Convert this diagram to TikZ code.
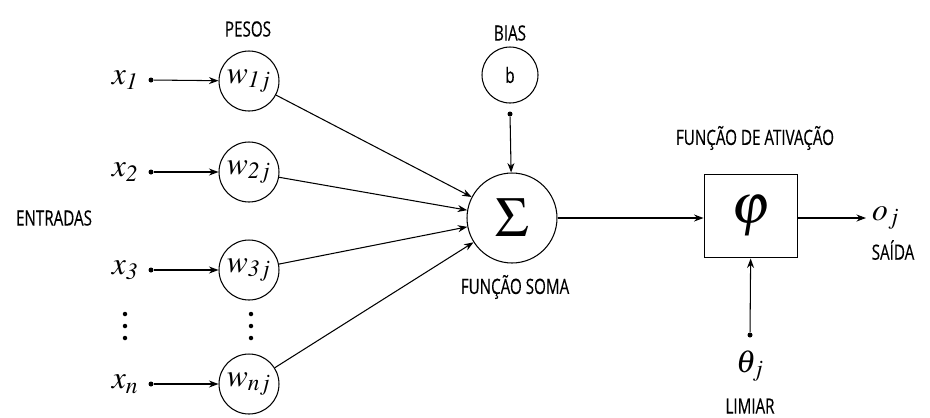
\documentclass[tikz,border=0pt]{standalone}
\usepackage{mathptmx}
\usepackage{fontspec}
\newfontfamily\rotulo[FakeStretch=0.72,FakeBold=0.3]{Open Sans}
\usetikzlibrary{arrows.meta,positioning}

\tikzset{
  peso/.style={draw,circle,semithick,minimum size=1.2cm,inner sep=0pt,font=\fontsize{18}{20}\selectfont},
  ponto/.style={circle,fill,minimum size=0.1cm,inner sep=0pt},
  rot/.style={font=\rotulo\fontsize{12}{14}\selectfont},
  var/.style={font=\fontsize{18}{20}\selectfont},
  seta/.style={semithick,-{Stealth[length=1.9mm,width=1.4mm]}}
}

\begin{document}
\begin{tikzpicture}[x=0.02cm,y=-0.02cm]
        \useasboundingbox (0,0) rectangle (930,417);
        % entradas e pesos
        \node[rot] (pesos) at (248,29) {PESOS};
        \node[rot] (entradas) at (54,218) {ENTRADAS};
        \node[peso] (w1) at (249,81) {$w_{\mathit{1}j}$};
        \node[peso] (w2) at (249,172) {$w_{\mathit{2}j}$};
        \node[peso] (w3) at (249,270) {$w_{\mathit{3}j}$};
        \node[peso] (wn) at (249,384) {$w_{nj}$};
        \node[ponto] (d1) at (151,80) {};
        \node[ponto] (d2) at (151,172) {};
        \node[ponto] (d3) at (151,270) {};
        \node[ponto] (dn) at (151,384) {};
        \node[var,left=2pt of d1] (x1) {$x_{\mathit{1}}$};
        \node[var,left=2pt of d2] (x2) {$x_{\mathit{2}}$};
        \node[var,left=2pt of d3] (x3) {$x_{\mathit{3}}$};
        \node[var,left=2pt of dn] (xn) {$x_n$};
        % reticencias verticais
        \fill (125,314) circle (0.045cm) (125,326) circle (0.045cm) (125,338) circle (0.045cm);
        \fill (251,314) circle (0.045cm) (251,326) circle (0.045cm) (251,338) circle (0.045cm);
        \draw[seta] (d1) -- (w1);
        \draw[seta] (d2) -- (w2);
        \draw[seta] (d3) -- (w3);
        \draw[seta] (dn) -- (wn);
        % soma e bias
        \node[draw,circle,semithick,minimum size=1.8cm,inner sep=0pt,font=\fontsize{32}{36}\selectfont] (soma) at (512,218) {$\Sigma$};
        \node[rot] (fsoma) at (515,287) {FUNÇÃO SOMA};
        \node[draw,circle,semithick,minimum size=1.12cm,inner sep=0pt,rot] (b) at (510,75) {b};
        \node[rot] (bias) at (510,33) {BIAS};
        \node[ponto] (db) at (510,114) {};
        \draw[seta] (db) -- (soma);
        \draw[seta] (w1) -- (soma);
        \draw[seta] (w2) -- (soma);
        \draw[seta] (w3) -- (soma);
        \draw[seta] (wn) -- (soma);
        % ativacao
        \node[draw,line width=1.1pt,minimum width=1.86cm,minimum height=1.66cm,font=\fontsize{32}{36}\selectfont] (phi) at (751,216) {$\varphi$};
        \node[rot] (fativ) at (755,138) {FUNÇÃO DE ATIVAÇÃO};
        \draw[seta] (soma) -- (soma -| phi.west);
        \coordinate (saida) at (866,218);
        \draw[seta] (phi.east |- saida) -- (saida);
        \node[var,right=0pt of saida] (o) {$o_j$};
        \node[rot] (lsaida) at (893,250) {SAÍDA};
        \node[ponto] (dt) at (750,335) {};
        \draw[seta] (dt) -- (phi);
        \node[var] (theta) at (750,366) {$\theta_j$};
        \node[rot] (limiar) at (750,406) {LIMIAR};
    \end{tikzpicture}
\end{document}
